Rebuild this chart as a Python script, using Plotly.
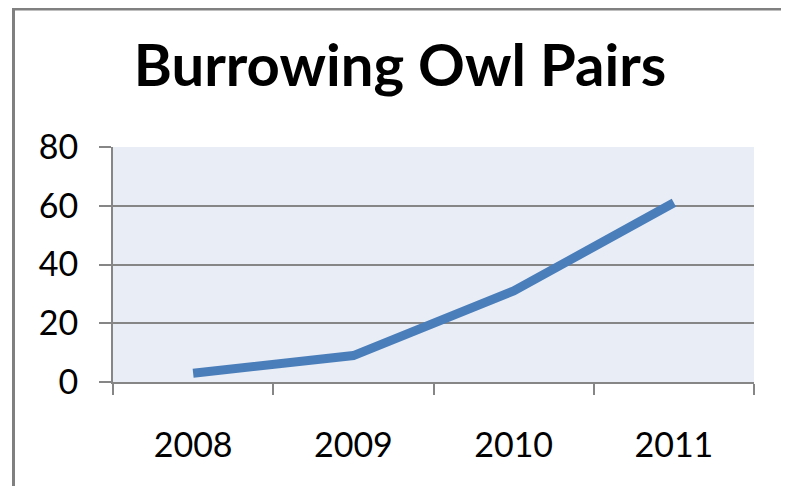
import plotly.graph_objects as go

years = ["2008", "2009", "2010", "2011"]
pairs = [3, 9, 31, 61]
y_ticks = [0, 20, 40, 60, 80]

# the page body adds an 8px offset; work in figure coordinates
W, H = 781, 478
L, R, T, B = 105, 746, 139, 374
pw, ph = R - L, B - T

def px(x):
    return (x - L) / pw

def py(y):
    return (B - y) / ph

fig = go.Figure()
fig.add_trace(go.Scatter(
    x=years, y=pairs, mode="lines",
    line=dict(color="#4A7EBB", width=9),
    hoverinfo="skip", showlegend=False,
))

grey = "#868686"
fig.update_layout(
    width=W, height=H,
    margin=dict(l=L, r=W - R, t=T, b=H - B),
    paper_bgcolor="white",
    plot_bgcolor="#E9EDF5",
    title=dict(
        text="<b>Burrowing Owl Pairs</b>",
        x=392 / W, xanchor="center",
        y=1 - 58 / H, yanchor="middle",
        font=dict(family="Lato", size=58, color="black"),
    ),
    font=dict(family="Lato", color="black"),
    xaxis=dict(
        type="category",
        tickson="boundaries",
        ticks="outside", ticklen=11, tickwidth=2, tickcolor=grey,
        showline=True, linecolor=grey, linewidth=2,
        showgrid=False,
        tickfont=dict(size=34, family="Lato", color="black"),
        ticklabelstandoff=32,
        range=[-0.5, 3.5],
        fixedrange=True,
    ),
    yaxis=dict(
        range=[0, 80],
        tickvals=y_ticks,
        ticks="outside", ticklen=12, tickwidth=2, tickcolor=grey,
        showline=True, linecolor=grey, linewidth=2,
        showgrid=True, gridcolor=grey, gridwidth=2,
        zeroline=False,
        tickfont=dict(size=34, family="Lato", color="black"),
        ticklabelstandoff=14,
        fixedrange=True,
    ),
    shapes=[dict(
        type="rect", xref="paper", yref="paper",
        x0=px(5.5), x1=px(775.5), y0=py(495), y1=py(1),
        line=dict(color="#808080", width=3),
        fillcolor="rgba(0,0,0,0)", layer="below",
    )],
)

fig.write_html("out.html")
